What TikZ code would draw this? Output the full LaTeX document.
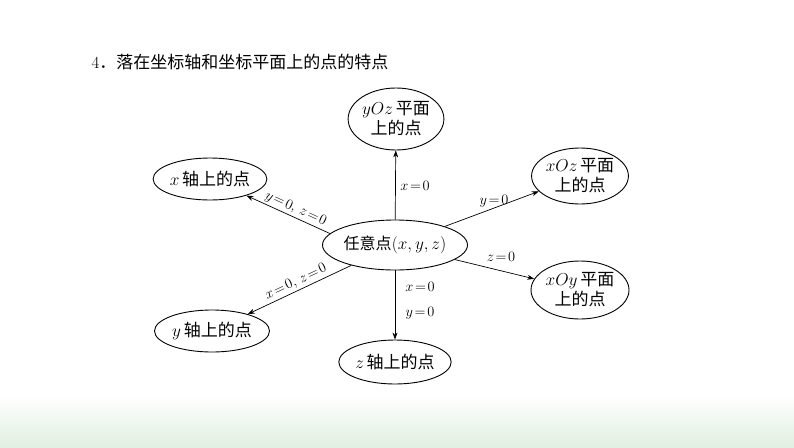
\documentclass[tikz,border=0pt]{standalone}
\usepackage{fontspec}
\newfontfamily\cjk{Noto Sans CJK SC}
\usetikzlibrary{shapes.geometric,arrows.meta}
\begin{document}
\begin{tikzpicture}[x=1pt,y=-1pt,
  el/.style={draw,ellipse,inner sep=0pt,line width=0.9pt,align=center,font=\fontsize{17}{20}\selectfont},
  arr/.style={-{Stealth[length=7pt,width=5pt]},line width=0.7pt},
  lab/.style={font=\fontsize{15}{18}\selectfont,inner sep=2pt}]
\useasboundingbox (0,0) rectangle (794,447);
\shade[top color=white,bottom color=green!30!gray!18!white] (0,395) rectangle (794,447);
\node[anchor=west,font=\fontsize{17}{20}\selectfont] (t) at (88,62) {4{\cjk ．落在坐标轴和坐标平面上的点的特点}};
\node[el,minimum width=128,minimum height=50,font=\fontsize{16}{18}\selectfont] (c) at (395,245) {{\cjk 任意点}$(x,y,z)$};
\node[el,minimum width=82,minimum height=62] (yoz) at (396,119) {$yOz$\,{\cjk 平面}\\{\cjk 上的点}};
\node[el,minimum width=90,minimum height=56] (xoz) at (580,176) {$xOz$\,{\cjk 平面}\\{\cjk 上的点}};
\node[el,minimum width=98,minimum height=58] (xoy) at (580,290) {$xOy$\,{\cjk 平面}\\{\cjk 上的点}};
\node[el,minimum width=110,minimum height=42] (xa) at (210,179) {$x$\,{\cjk 轴上的点}};
\node[el,minimum width=115,minimum height=42] (ya) at (212,331) {$y$\,{\cjk 轴上的点}};
\node[el,minimum width=112,minimum height=44] (za) at (395,362) {$z$\,{\cjk 轴上的点}};
\draw[arr] (c) -- (yoz);
\draw[arr] (c) -- (xoz);
\draw[arr] (c) -- (xoy);
\draw[arr] (c.170) -- node[lab,sloped,above,pos=0.45] (l2) {$y\!=\!0,\,z\!=\!0$} (xa);
\draw[arr] (c.205) -- node[lab,sloped,above,pos=0.5] (l3) {$x\!=\!0,\,z\!=\!0$} (ya);
\draw[arr] (c) -- (za);
\node[lab] (l1) at (415,186) {$x\!=\!0$};
\node[lab] (l4) at (494,201) {$y\!=\!0$};
\node[lab] (l5) at (501,257) {$z\!=\!0$};
\node[lab] (l6) at (420,287) {$x\!=\!0$};
\node[lab] (l7) at (420,313) {$y\!=\!0$};
\end{tikzpicture}
\end{document}
